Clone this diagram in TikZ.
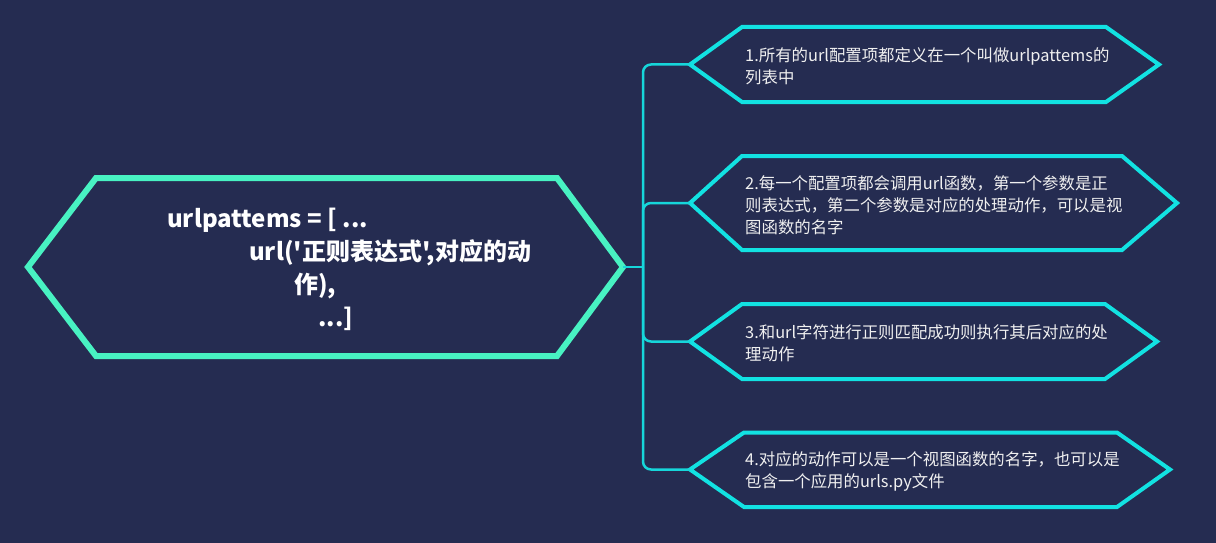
\documentclass[tikz,border=0pt]{standalone}
\usepackage{fontspec}
\newfontfamily\cjk{Noto Sans CJK SC}
\usetikzlibrary{positioning}
\definecolor{bgnavy}{HTML}{252C51}
\definecolor{mint}{HTML}{48F2C2}
\definecolor{aqua}{HTML}{12E2E2}
\definecolor{linkaqua}{HTML}{16D6DA}

\begin{document}
\begin{tikzpicture}[x=1pt,y=-1pt]
  \tikzset{
    mainhex/.style={line width=6pt,mint},
    subhex/.style={line width=4pt,aqua},
    link/.style={line width=2.5pt,linkaqua,rounded corners=8pt},
    maintext/.style={text=white,inner sep=0pt,align=left,anchor=west,
      font=\cjk\bfseries\fontsize{24}{33}\selectfont},
    subtext/.style={text=white!94!black,inner sep=0pt,align=left,anchor=west,
      font=\cjk\fontsize{16.4}{22}\selectfont}
  }

  \fill[bgnavy] (0,0) rectangle (1216,543);
  \useasboundingbox (0,0) rectangle (1216,543);

  \draw[mainhex] (28,267) -- (96,178) -- (557,178) -- (623,267)
    -- (557,356) -- (96,356) -- cycle;
  \coordinate (mainR) at (623,267);
  \node[maintext] (title) at (167,269)
    {urlpattems = [ ...\\
     \hspace*{82pt}url('正则表达式',对应的动\\
     \hspace*{127pt}作),\\
     \hspace*{151pt}...]};

  \draw[subhex] (690,64.5) -- (742,27) -- (1106,27) -- (1159,64.5)
    -- (1106,102) -- (742,102) -- cycle;
  \coordinate (c1L) at (690,64.5);
  \node[subtext] (t1) at (745,66)
    {1.所有的url配置项都定义在一个叫做urlpattems的\\列表中};

  \draw[subhex] (690,203) -- (742,156) -- (1122,156) -- (1177,203)
    -- (1122,250) -- (742,250) -- cycle;
  \coordinate (c2L) at (690,203);
  \node[subtext] (t2) at (745,205)
    {2.每一个配置项都会调用url函数，第一个参数是正\\
     则表达式，第二个参数是对应的处理动作，可以是视\\
     图函数的名字};

  \draw[subhex] (690,341.5) -- (742,304) -- (1105,304) -- (1157,341.5)
    -- (1105,379) -- (742,379) -- cycle;
  \coordinate (c3L) at (690,341.5);
  \node[subtext] (t3) at (745,343)
    {3.和url字符进行正则匹配成功则执行其后对应的处\\理动作};

  \draw[subhex] (690,469.5) -- (744,432.5) -- (1117,432.5) -- (1170,469.5)
    -- (1117,507) -- (744,507) -- cycle;
  \coordinate (c4L) at (690,469.5);
  \node[subtext] (t4) at (745,471)
    {4.对应的动作可以是一个视图函数的名字，也可以是\\包含一个应用的urls.py文件};

  \coordinate (hub) at (643,267);
  \draw[link] (mainR) -- (hub);
  \draw[link] (c1L) -| (hub) |- (c4L);
  \draw[link] (hub) |- (c2L);
  \draw[link] (hub) |- (c3L);
\end{tikzpicture}
\end{document}
